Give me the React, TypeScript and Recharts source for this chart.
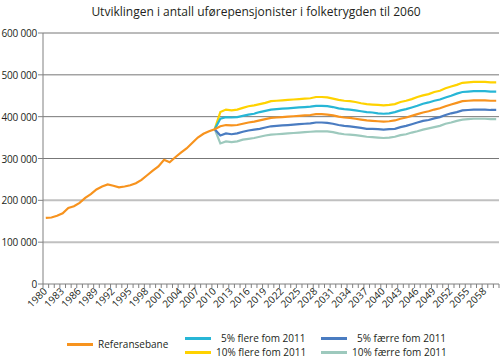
import { LineChart, Line, XAxis, YAxis, ReferenceLine } from 'recharts';

// categories: one per year
const years = Array.from({ length: 81 }, (_, i) => 1980 + i);

// Referansebane, history 1980-2010 (thousands)
const refHistory = [
  158, 159, 163, 169, 182, 186, 194, 206, 215, 226,
  233, 238, 235, 231, 233, 236, 241, 249, 260, 271,
  281, 297, 291, 303, 314, 324, 337, 350, 359, 365,
  370,
];

// Referansebane, projection 2011-2060 (thousands)
const refProjection = [
  377, 380, 379, 380, 383, 386, 388, 391, 394, 397,
  398, 399, 400, 401, 402, 403, 404, 406, 406, 405,
  403, 400, 398, 397, 395, 393, 391, 390, 389, 388,
  389, 391, 395, 398, 402, 406, 410, 413, 417, 420,
  425, 429, 433, 437, 438, 439, 439, 439, 438, 438,
];

// scenarios, 2010-2060 (thousands)
const flere5 = [
  370,
  395, 399, 398, 399, 402, 405, 407, 411, 414, 417,
  418, 419, 420, 421, 422, 423, 424, 426, 426, 425,
  423, 420, 418, 417, 415, 413, 411, 410, 408, 407,
  408, 411, 415, 418, 422, 426, 431, 434, 438, 441,
  446, 450, 455, 459, 460, 461, 461, 461, 460, 460,
];
const flere10 = [
  370,
  411, 417, 415, 417, 421, 425, 427, 430, 433, 437,
  438, 439, 440, 441, 442, 443, 444, 447, 447, 446,
  443, 440, 438, 437, 435, 432, 430, 429, 428, 427,
  428, 430, 435, 438, 442, 447, 451, 454, 459, 462,
  468, 472, 476, 481, 482, 483, 483, 483, 482, 482,
];
const faerre5 = [
  370,
  355, 360, 358, 360, 364, 367, 369, 371, 374, 377,
  378, 379, 380, 381, 382, 383, 384, 386, 386, 385,
  383, 380, 378, 377, 375, 373, 371, 371, 370, 369,
  370, 371, 375, 378, 382, 386, 390, 392, 396, 399,
  404, 408, 411, 415, 416, 417, 417, 417, 416, 416,
];
const faerre10 = [
  370,
  336, 341, 339, 341, 345, 347, 349, 352, 355, 357,
  358, 359, 360, 361, 362, 363, 364, 365, 365, 365,
  363, 360, 358, 357, 356, 354, 352, 351, 350, 349,
  350, 352, 356, 358, 362, 365, 369, 372, 375, 378,
  383, 386, 390, 393, 394, 395, 395, 395, 394, 394,
];

const yTicks = [0, 100000, 200000, 300000, 400000, 500000, 600000];

const COLORS = {
  ref: '#f7931e',
  flere5: '#27b6d6',
  flere10: '#ffd200',
  faerre5: '#4a7cc1',
  faerre10: '#9dc9bd',
};

const FONT = '"Open Sans", sans-serif';
const TEXT = '#231f20';
const AXIS = '#808080';

const allRef = [...refHistory, ...refProjection];

const rows = years.map((year, i) => {
  const p = i - 30;
  return {
    year: String(year),
    ref: allRef[i] * 1000,
    flere5: p >= 0 ? flere5[p] * 1000 : null,
    flere10: p >= 0 ? flere10[p] * 1000 : null,
    faerre5: p >= 0 ? faerre5[p] * 1000 : null,
    faerre10: p >= 0 ? faerre10[p] * 1000 : null,
  };
});

const HALF = 2.8;

const YearTick = (props: any) => {
  const { x, y, payload, index } = props;
  const year = Number(payload.value);
  const showLabel = (year - 1980) % 3 === 0;
  return (
    <g>
      <line x1={x - HALF} y1={y} x2={x - HALF} y2={y + 4} stroke={AXIS} />
      {index === years.length - 1 && (
        <line x1={x + HALF} y1={y} x2={x + HALF} y2={y + 4} stroke={AXIS} />
      )}
      {showLabel && (
        <text
          x={x + 2}
          y={y + 8}
          textAnchor="end"
          transform={`rotate(-45, ${x + 2}, ${y + 8})`}
          fontSize={10}
          fill={TEXT}
          fontFamily={FONT}
        >
          {year}
        </text>
      )}
    </g>
  );
};

const ValueTick = (props: any) => {
  const { x, y, payload } = props;
  const v = payload.value;
  return (
    <text x={x} y={y + 4} textAnchor="end" fontSize={10} letterSpacing={-0.2} fill={TEXT} fontFamily={FONT}>
      {v === 0 ? '0' : `${v / 1000} 000`}
    </text>
  );
};

const LegendItem = ({ left, top, color, label, textLeft }: any) => (
  <div style={{ position: 'absolute', left: 0, top: 0 }}>
    <div style={{ position: 'absolute', left, top: top + 6, width: 26, height: 3, background: color }} />
    <div
      style={{
        position: 'absolute',
        left: textLeft,
        top,
        fontSize: 10,
        lineHeight: '14px',
        fontFamily: FONT,
        color: TEXT,
        whiteSpace: 'nowrap',
      }}
    >
      {label}
    </div>
  </div>
);

export default function App() {
  return (
    <div style={{ position: 'absolute', left: 0, top: 0, width: 500, height: 359, background: '#fff' }}>
      <div
        style={{
          position: 'absolute',
          left: 0,
          top: 3,
          width: 512,
          textAlign: 'center',
          fontFamily: FONT,
          fontSize: 12,
          color: TEXT,
        }}
      >
        Utviklingen i antall uførepensjonister i folketrygden til 2060
      </div>
      <LineChart width={500} height={359} data={rows} margin={{ top: 33, right: 1, bottom: 0, left: 0 }}>
        <XAxis
          dataKey="year"
          type="category"
          ticks={rows.map((r) => r.year)}
          interval={0}
          padding={{ left: HALF, right: HALF }}
          height={75}
          tickLine={false}
          tickSize={0}
          tickMargin={0}
          axisLine={{ stroke: AXIS }}
          tick={<YearTick />}
        />
        <YAxis
          domain={[0, 600000]}
          ticks={yTicks}
          width={43}
          tickSize={5}
          tickMargin={1}
          axisLine={{ stroke: AXIS }}
          tickLine={{ stroke: AXIS }}
          tick={<ValueTick />}
        />
        <YAxis
          yAxisId="frame"
          orientation="right"
          width={0}
          domain={[0, 600000]}
          tick={false}
          tickLine={false}
          axisLine={{ stroke: AXIS }}
        />
        <ReferenceLine y={100000} stroke="#c0c0c0" strokeWidth={2} />
        <ReferenceLine y={200000} stroke="#c0c0c0" strokeWidth={2} />
        <ReferenceLine y={300000} stroke="#777" />
        <ReferenceLine y={400000} stroke="#777" />
        <ReferenceLine y={500000} stroke="#777" />
        <ReferenceLine y={600000} stroke="#777" />
        <Line dataKey="flere10" stroke={COLORS.flere10} strokeWidth={2.2} dot={false} isAnimationActive={false} />
        <Line dataKey="flere5" stroke={COLORS.flere5} strokeWidth={2.2} dot={false} isAnimationActive={false} />
        <Line dataKey="faerre10" stroke={COLORS.faerre10} strokeWidth={2.2} dot={false} isAnimationActive={false} />
        <Line dataKey="faerre5" stroke={COLORS.faerre5} strokeWidth={2.2} dot={false} isAnimationActive={false} />
        <Line dataKey="ref" stroke={COLORS.ref} strokeWidth={2.2} dot={false} isAnimationActive={false} />
      </LineChart>
      <LegendItem left={67} top={337} color={COLORS.ref} label="Referansebane" textLeft={98} />
      <LegendItem left={185} top={331} color={COLORS.flere5} label="5% flere fom 2011" textLeft={221} />
      <LegendItem left={185} top={345} color={COLORS.flere10} label="10% flere fom 2011" textLeft={216} />
      <LegendItem left={321} top={331} color={COLORS.faerre5} label="5% færre fom 2011" textLeft={357} />
      <LegendItem left={321} top={345} color={COLORS.faerre10} label="10% færre fom 2011" textLeft={352} />
    </div>
  );
}
